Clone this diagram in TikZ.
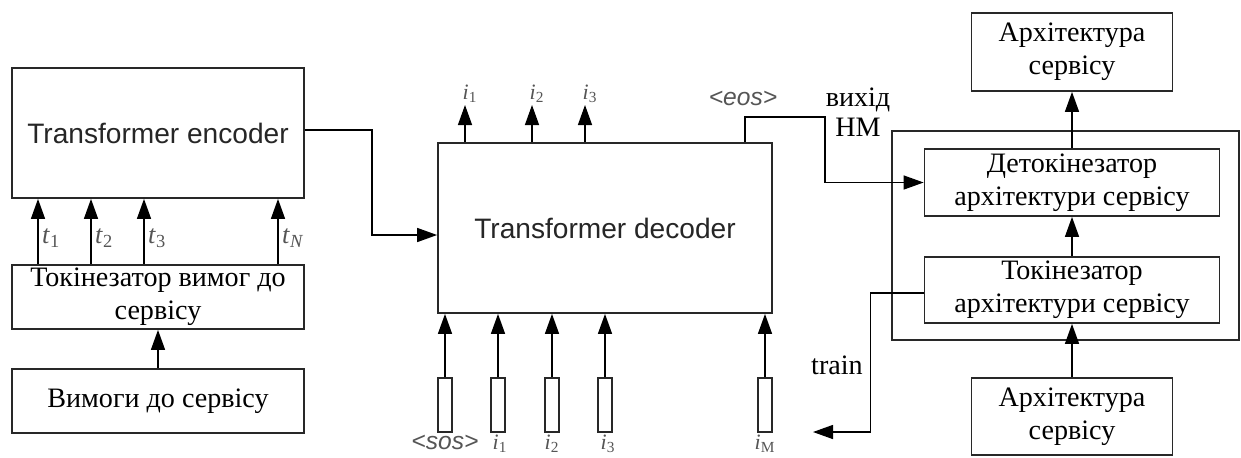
\documentclass[tikz,border=0pt]{standalone}
\usepackage{fontspec}
\setmainfont{Liberation Serif}
\setsansfont{Liberation Sans}
\usetikzlibrary{arrows.meta}
\definecolor{boxline}{RGB}{40,40,40}
\definecolor{lblgray}{RGB}{85,85,85}

\begin{document}
\begin{tikzpicture}[
  blk/.style={draw=boxline, line width=1pt, align=center, inner sep=0pt, font=\fontsize{16}{19}\selectfont},
  tfblk/.style={blk, font=\sffamily\fontsize{16}{19}\selectfont, text=black!85},
  tokbar/.style={draw=boxline, line width=0.9pt, minimum width=0.28cm, minimum height=1.08cm, inner sep=0pt},
  arr/.style={-{Triangle[length=4mm, width=2.8mm]}, line width=0.8pt},
  tidx/.style={font=\fontsize{15}{17}\selectfont, text=lblgray, inner sep=1pt},
  iidx/.style={font=\fontsize{12.5}{14}\selectfont, text=lblgray, inner sep=1pt},
  seqlbl/.style={font=\sffamily\itshape\fontsize{14}{16}\selectfont, text=lblgray, inner sep=1pt},
  lbl/.style={font=\fontsize{16}{17}\selectfont, align=center, inner sep=0pt}
]
\useasboundingbox (0,0) rectangle (24.82,-9.14);

% encoder side
\node[tfblk, minimum width=5.84cm, minimum height=2.6cm] (enc) at (3.16,-2.66) {Transformer encoder};
\node[blk, minimum width=5.84cm, minimum height=1.28cm] (tokreq) at (3.16,-5.94) {Токінезатор вимог до\\сервісу};
\node[blk, minimum width=5.84cm, minimum height=1.28cm] (req) at (3.16,-8.02) {Вимоги до сервісу};

\draw[arr] (req) -- (tokreq);
\draw[arr] ([xshift=-2.4cm]tokreq.north) -- ([xshift=-2.4cm]enc.south)
  node[tidx, pos=0.4, anchor=west, xshift=1pt] (lt1) {\textit{t}\textsubscript{1}};
\draw[arr] ([xshift=-1.34cm]tokreq.north) -- ([xshift=-1.34cm]enc.south)
  node[tidx, pos=0.4, anchor=west, xshift=1pt] (lt2) {\textit{t}\textsubscript{2}};
\draw[arr] ([xshift=-0.28cm]tokreq.north) -- ([xshift=-0.28cm]enc.south)
  node[tidx, pos=0.4, anchor=west, xshift=1pt] (lt3) {\textit{t}\textsubscript{3}};
\draw[arr] ([xshift=2.4cm]tokreq.north) -- ([xshift=2.4cm]enc.south)
  node[tidx, pos=0.4, anchor=west, xshift=1pt] (ltN) {\textit{t}\textsubscript{\textit{N}}};

% decoder
\node[tfblk, minimum width=6.68cm, minimum height=3.4cm] (dec) at (12.1,-4.56) {Transformer decoder};
\draw[arr] ([yshift=0.06cm]enc.east) -- ++(1.34,0) |- ([yshift=-0.14cm]dec.west);

\coordinate (o1) at (9.30,-2.10);
\coordinate (o2) at (10.64,-2.10);
\coordinate (o3) at (11.70,-2.10);
\draw[arr] (o1 |- dec.north) -- (o1) node[iidx, anchor=south, xshift=0.1cm] (li1) {\textit{i}\textsubscript{1}};
\draw[arr] (o2 |- dec.north) -- (o2) node[iidx, anchor=south, xshift=0.1cm] (li2) {\textit{i}\textsubscript{2}};
\draw[arr] (o3 |- dec.north) -- (o3) node[iidx, anchor=south, xshift=0.1cm] (li3) {\textit{i}\textsubscript{3}};

\node[tokbar] (bsos) at (8.90,-8.10) {};
\node[tokbar] (b1) at (9.96,-8.10) {};
\node[tokbar] (b2) at (11.04,-8.10) {};
\node[tokbar] (b3) at (12.10,-8.10) {};
\node[tokbar] (bM) at (15.30,-8.10) {};
\draw[arr] (bsos) -- (bsos |- dec.south);
\draw[arr] (b1) -- (b1 |- dec.south);
\draw[arr] (b2) -- (b2 |- dec.south);
\draw[arr] (b3) -- (b3 |- dec.south);
\draw[arr] (bM) -- (bM |- dec.south);
\node[seqlbl, anchor=north] (lsos) at (bsos.south) {<sos>};
\node[iidx, anchor=north, xshift=0.04cm] (lb1) at (b1.south) {\textit{i}\textsubscript{1}};
\node[iidx, anchor=north] (lb2) at (b2.south) {\textit{i}\textsubscript{2}};
\node[iidx, anchor=north, xshift=0.06cm] (lb3) at (b3.south) {\textit{i}\textsubscript{3}};
\node[iidx, anchor=north] (lbM) at (bM.south) {\textit{i}\textsubscript{M}};

% output side
\node[draw=boxline, line width=1pt, minimum width=6.94cm, minimum height=4.18cm] (nmbox) at (21.31,-4.71) {};
\node[blk, minimum width=5.9cm, minimum height=1.34cm] (detok) at (21.44,-3.65) {Детокінезатор\\архітектури сервісу};
\node[blk, minimum width=5.9cm, minimum height=1.32cm] (tokarch) at (21.44,-5.80) {Токінезатор\\архітектури сервісу};
\node[blk, minimum width=4.02cm, minimum height=1.56cm] (archout) at (21.44,-1.04) {Архітектура\\сервісу};
\node[blk, minimum width=4.02cm, minimum height=1.54cm] (archin) at (21.44,-8.33) {Архітектура\\сервісу};

\draw[arr] (detok) -- (archout);
\draw[arr] (tokarch) -- (detok);
\draw[arr] (archin) -- (tokarch);

\coordinate (eosbase) at (14.9,-2.34);
\coordinate (eosturn) at (16.5,-2.34);
\draw[arr] (eosbase |- dec.north) -- (eosbase) -- (eosturn) |- (detok.west);
\node[seqlbl] (leos) at (14.86,-1.96) {<eos>};
\node[lbl] (lnm) at (17.16,-2.24) {вихід\\НМ};

\coordinate (trainend) at (16.26,-8.64);
\draw[arr] ([yshift=-0.06cm]tokarch.west) -- ++(-1.06,0) |- (trainend);
\node[lbl] (ltrain) at (16.74,-7.30) {train};
\end{tikzpicture}
\end{document}
